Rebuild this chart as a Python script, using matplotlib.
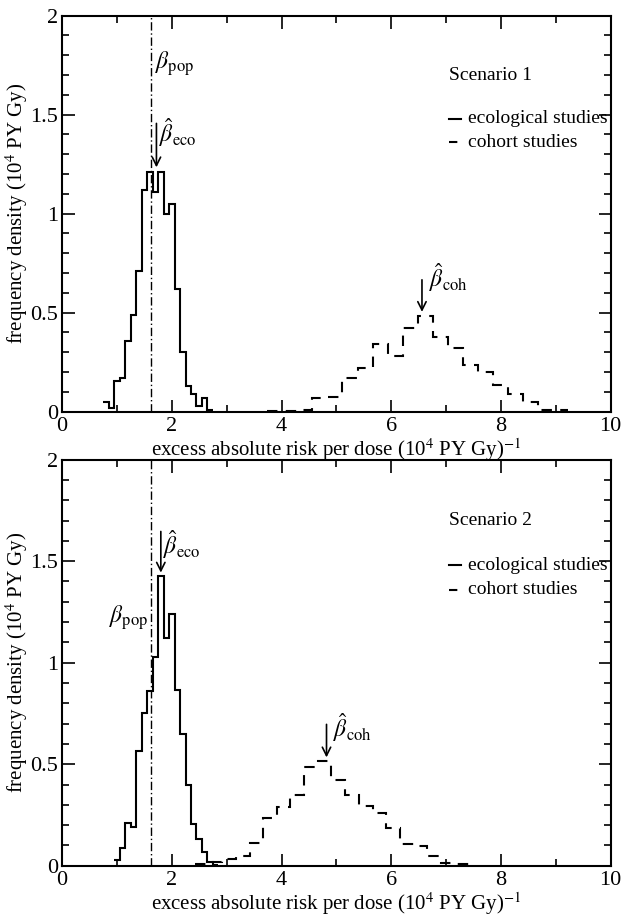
import matplotlib
matplotlib.use("Agg")
import matplotlib.pyplot as plt
import numpy as np

plt.rcParams['font.family'] = ['Liberation Serif', 'DejaVu Serif']
plt.rcParams['mathtext.fontset'] = 'stix'
plt.rcParams['font.size'] = 15

# scenario 1
eco1_edges = [0.75, 0.85, 0.95, 1.05, 1.15, 1.25, 1.35, 1.45, 1.55, 1.65, 1.75,
              1.85, 1.95, 2.05, 2.15, 2.25, 2.35, 2.45, 2.55, 2.65, 2.75]
eco1_vals = [0.048, 0.021, 0.155, 0.17, 0.356, 0.49, 0.71, 1.12, 1.21, 1.11,
             1.21, 1.0, 1.05, 0.62, 0.30, 0.13, 0.09, 0.03, 0.07, 0.007]
coh1_edges = [3.74, 4.01, 4.29, 4.56, 4.84, 5.11, 5.39, 5.66, 5.94, 6.21, 6.49,
              6.76, 7.03, 7.31, 7.58, 7.86, 8.13, 8.41, 8.68, 8.96, 9.23]
coh1_vals = [0.005, 0.004, 0.01, 0.07, 0.075, 0.168, 0.221, 0.342, 0.28, 0.425,
             0.483, 0.377, 0.324, 0.235, 0.198, 0.133, 0.088, 0.05, 0.01, 0.01]

# scenario 2
eco2_edges = [0.95, 1.05, 1.15, 1.25, 1.35, 1.45, 1.55, 1.65, 1.75, 1.85, 1.95,
              2.05, 2.15, 2.25, 2.35, 2.45, 2.55, 2.65, 2.75, 2.85]
eco2_vals = [0.027, 0.089, 0.21, 0.19, 0.565, 0.75, 0.86, 1.03, 1.425, 1.12,
             1.24, 0.866, 0.65, 0.40, 0.207, 0.13, 0.07, 0.02, 0.005]
coh2_edges = [2.42, 2.67, 2.92, 3.17, 3.42, 3.66, 3.91, 4.16, 4.41, 4.66, 4.91,
              5.16, 5.41, 5.66, 5.91, 6.16, 6.41, 6.66, 6.91, 7.16, 7.41]
coh2_vals = [0.007, 0.02, 0.035, 0.048, 0.113, 0.234, 0.287, 0.349, 0.485, 0.517,
             0.42, 0.349, 0.296, 0.26, 0.184, 0.106, 0.096, 0.048, 0.012, 0.007]

beta_pop = 1.63
beta_eco = [1.72, 1.80]
beta_coh = [6.56, 4.82]
scenarios = ['Scenario 1', 'Scenario 2']

fig = plt.figure(figsize=(6.27, 9.23), dpi=100)
ax1 = fig.add_axes([0.099, 0.554, 0.875, 0.429])
ax2 = fig.add_axes([0.099, 0.062, 0.875, 0.440])
axes = [ax1, ax2]
data = [(eco1_edges, eco1_vals, coh1_edges, coh1_vals),
        (eco2_edges, eco2_vals, coh2_edges, coh2_vals)]

for i, ax in enumerate(axes):
    ee, ev, ce, cv = data[i]
    ax.stairs(ev, ee, color='black', lw=1.5, baseline=None)
    ax.stairs(cv, ce, color='black', lw=1.5, baseline=None,
              linestyle=(0, (5, 4)))
    ax.axvline(beta_pop, color='black', lw=1.0, linestyle=(0, (6, 2, 1, 2)))

    ax.set_xlim(0, 10)
    ax.set_ylim(0, 2)
    ax.set_xticks([0, 2, 4, 6, 8, 10])
    ax.set_xticks(np.arange(1, 10, 2), minor=True)
    ax.set_yticks([0, 0.5, 1, 1.5, 2])
    ax.set_yticklabels(['0', '0.5', '1', '1.5', '2'])
    ax.set_yticks(np.arange(0, 2.01, 0.1), minor=True)
    ax.tick_params(which='both', direction='in', top=True, right=True, width=1.2)
    ax.tick_params(which='major', length=9, labelsize=16)
    ax.tick_params(axis='x', which='major', pad=4)
    ax.tick_params(axis='y', which='major', pad=3)
    ax.tick_params(which='minor', length=5)
    for s in ax.spines.values():
        s.set_linewidth(1.5)
    ax.set_xlabel(r'excess absolute risk per dose (10$^4$ PY Gy)$^{-1}$',
                  fontsize=15, labelpad=0)
    ax.set_ylabel(r'frequency density (10$^4$ PY Gy)', fontsize=15, labelpad=0)

    # legend-like block
    ax.text(7.8, 1.70, scenarios[i], ha='center', va='center', fontsize=14)
    ax.plot([7.05, 7.27], [1.48, 1.48], color='black', lw=1.5)
    ax.text(7.4, 1.48, 'ecological studies', va='center', fontsize=14)
    ax.plot([7.05, 7.27], [1.36, 1.36], color='black', lw=1.5,
            linestyle=(0, (4, 3)))
    ax.text(7.4, 1.36, 'cohort studies', va='center', fontsize=14)

# arrows and beta labels, scenario 1
ax1.annotate('', xy=(beta_eco[0], 1.22), xytext=(beta_eco[0], 1.47),
             arrowprops=dict(arrowstyle='->', color='black', lw=1.2))
ax1.text(beta_eco[0] + 0.04, 1.41, r'$\hat{\beta}_{\mathrm{eco}}$', fontsize=17,
         va='center')
ax1.text(beta_pop + 0.06, 1.76, r'$\beta_{\mathrm{pop}}$', fontsize=17, va='center')
ax1.annotate('', xy=(beta_coh[0], 0.49), xytext=(beta_coh[0], 0.68),
             arrowprops=dict(arrowstyle='->', color='black', lw=1.2))
ax1.text(beta_coh[0] + 0.12, 0.68, r'$\hat{\beta}_{\mathrm{coh}}$', fontsize=17,
         va='center')

# scenario 2
ax2.annotate('', xy=(beta_eco[1], 1.43), xytext=(beta_eco[1], 1.66),
             arrowprops=dict(arrowstyle='->', color='black', lw=1.2))
ax2.text(beta_eco[1] + 0.04, 1.58, r'$\hat{\beta}_{\mathrm{eco}}$', fontsize=17,
         va='center')
ax2.text(beta_pop - 0.06, 1.22, r'$\beta_{\mathrm{pop}}$', fontsize=17,
         va='center', ha='right')
ax2.annotate('', xy=(beta_coh[1], 0.52), xytext=(beta_coh[1], 0.71),
             arrowprops=dict(arrowstyle='->', color='black', lw=1.2))
ax2.text(beta_coh[1] + 0.12, 0.68, r'$\hat{\beta}_{\mathrm{coh}}$', fontsize=17,
         va='center')

fig.savefig('out.png', dpi=100)
